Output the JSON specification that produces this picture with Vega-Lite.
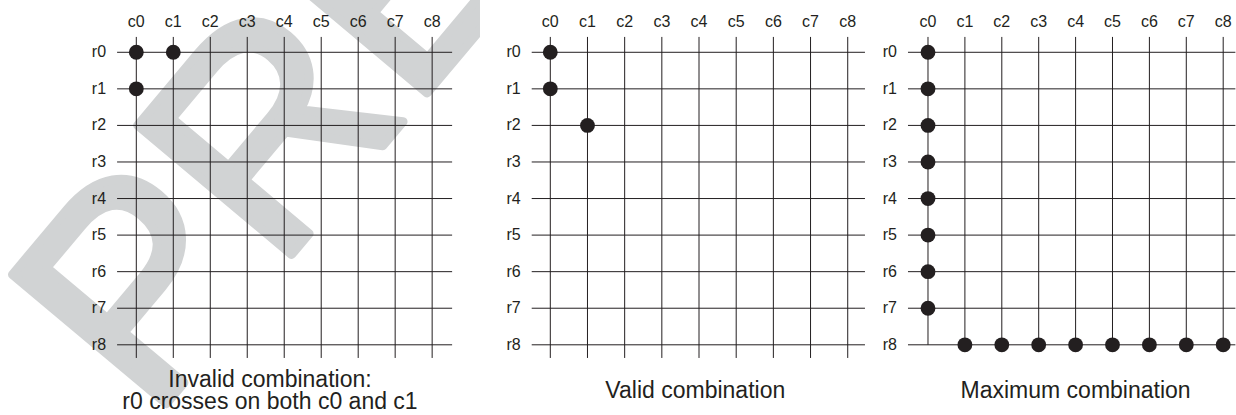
{
  "$schema": "https://vega.github.io/schema/vega-lite/v6.json",
  "padding": 0,
  "background": "white",
  "spacing": 0,
  "bounds": "flush",
  "config": {
    "view": {"stroke": null},
    "font": "Liberation Sans"
  },
  "datasets": {
    "cols": [
      {"col": 0, "label": "c0"}, {"col": 1, "label": "c1"}, {"col": 2, "label": "c2"},
      {"col": 3, "label": "c3"}, {"col": 4, "label": "c4"}, {"col": 5, "label": "c5"},
      {"col": 6, "label": "c6"}, {"col": 7, "label": "c7"}, {"col": 8, "label": "c8"}
    ],
    "rows": [
      {"row": 0, "label": "r0"}, {"row": 1, "label": "r1"}, {"row": 2, "label": "r2"},
      {"row": 3, "label": "r3"}, {"row": 4, "label": "r4"}, {"row": 5, "label": "r5"},
      {"row": 6, "label": "r6"}, {"row": 7, "label": "r7"}, {"row": 8, "label": "r8"}
    ],
    "invalid": [
      {"col": 0, "row": 0},
      {"col": 1, "row": 0},
      {"col": 0, "row": 1}
    ],
    "valid": [
      {"col": 0, "row": 0},
      {"col": 0, "row": 1},
      {"col": 1, "row": 2}
    ],
    "maximum": [
      {"col": 0, "row": 0}, {"col": 0, "row": 1}, {"col": 0, "row": 2}, {"col": 0, "row": 3},
      {"col": 0, "row": 4}, {"col": 0, "row": 5}, {"col": 0, "row": 6}, {"col": 0, "row": 7},
      {"col": 1, "row": 8}, {"col": 2, "row": 8}, {"col": 3, "row": 8}, {"col": 4, "row": 8},
      {"col": 5, "row": 8}, {"col": 6, "row": 8}, {"col": 7, "row": 8}, {"col": 8, "row": 8}
    ]
  },
  "hconcat": [
    {
      "width": 480,
      "height": 415,
      "layer": [
        {
          "data": {"values": [{"text": "PRELIMINARY"}]},
          "mark": {"type": "text", "clip": true, "font": "Liberation Sans", "fontSize": 292, "angle": -50, "align": "left", "baseline": "alphabetic", "fill": "#d1d3d4", "stroke": "#d1d3d4", "strokeWidth": 9, "strokeJoin": "round"},
          "encoding": {
            "text": {"field": "text"},
            "x": {"datum": 0.3975, "type": "quantitative", "scale": {"domain": [-3.686, 9.294], "nice": false, "zero": false}, "axis": null},
            "y": {"datum": 10.112, "type": "quantitative", "scale": {"domain": [-1.43, 9.92], "reverse": true, "nice": false, "zero": false}, "axis": null}
          }
        },
        {
          "data": {"name": "cols"},
          "mark": {"type": "rule", "color": "#231f20", "strokeWidth": 1},
          "encoding": {
            "x": {"field": "col", "type": "quantitative", "scale": {"domain": [-3.686, 9.294], "nice": false, "zero": false}, "axis": null},
            "y": {"datum": -0.42, "type": "quantitative", "scale": {"domain": [-1.43, 9.92], "reverse": true, "nice": false, "zero": false}, "axis": null},
            "y2": {"datum": 8.36}
          }
        },
        {
          "data": {"name": "rows"},
          "mark": {"type": "rule", "color": "#231f20", "strokeWidth": 1},
          "encoding": {
            "y": {"field": "row", "type": "quantitative", "scale": {"domain": [-1.43, 9.92], "reverse": true, "nice": false, "zero": false}, "axis": null},
            "x": {"datum": -0.52, "type": "quantitative", "scale": {"domain": [-3.686, 9.294], "nice": false, "zero": false}, "axis": null},
            "x2": {"datum": 8.54}
          }
        },
        {
          "data": {"name": "cols"},
          "mark": {"type": "text", "align": "center", "baseline": "alphabetic", "dy": -10, "font": "Liberation Sans", "fontSize": 16, "color": "#231f20"},
          "encoding": {
            "text": {"field": "label"},
            "x": {"field": "col", "type": "quantitative", "scale": {"domain": [-3.686, 9.294], "nice": false, "zero": false}, "axis": null},
            "y": {"datum": -0.42, "type": "quantitative", "scale": {"domain": [-1.43, 9.92], "reverse": true, "nice": false, "zero": false}, "axis": null}
          }
        },
        {
          "data": {"name": "rows"},
          "mark": {"type": "text", "align": "right", "baseline": "middle", "dx": -11, "font": "Liberation Sans", "fontSize": 16, "color": "#231f20"},
          "encoding": {
            "text": {"field": "label"},
            "y": {"field": "row", "type": "quantitative", "scale": {"domain": [-1.43, 9.92], "reverse": true, "nice": false, "zero": false}, "axis": null},
            "x": {"datum": -0.52, "type": "quantitative", "scale": {"domain": [-3.686, 9.294], "nice": false, "zero": false}, "axis": null}
          }
        },
        {
          "data": {"name": "invalid"},
          "mark": {"type": "circle", "size": 220, "opacity": 1, "color": "#231f20"},
          "encoding": {
            "x": {"field": "col", "type": "quantitative", "scale": {"domain": [-3.686, 9.294], "nice": false, "zero": false}, "axis": null},
            "y": {"field": "row", "type": "quantitative", "scale": {"domain": [-1.43, 9.92], "reverse": true, "nice": false, "zero": false}, "axis": null}
          }
        },
        {
          "data": {"values": [{"title": ["Invalid combination:", "r0 crosses on both c0 and c1"]}]},
          "mark": {"type": "text", "align": "center", "baseline": "alphabetic", "font": "Liberation Sans", "fontSize": 23, "lineHeight": 22.5, "color": "#231f20"},
          "encoding": {
            "text": {"field": "title"},
            "x": {"datum": 3.615, "type": "quantitative", "scale": {"domain": [-3.686, 9.294], "nice": false, "zero": false}, "axis": null},
            "y": {"datum": 9.147, "type": "quantitative", "scale": {"domain": [-1.43, 9.92], "reverse": true, "nice": false, "zero": false}, "axis": null}
          }
        }
      ]
    },
    {
      "width": 393,
      "height": 415,
      "layer": [
        {
          "data": {"name": "cols"},
          "mark": {"type": "rule", "color": "#231f20", "strokeWidth": 1},
          "encoding": {
            "x": {"field": "col", "type": "quantitative", "scale": {"domain": [-1.891, 8.68], "nice": false, "zero": false}, "axis": null},
            "y": {"datum": -0.42, "type": "quantitative", "scale": {"domain": [-1.43, 9.92], "reverse": true, "nice": false, "zero": false}, "axis": null},
            "y2": {"datum": 8.36}
          }
        },
        {
          "data": {"name": "rows"},
          "mark": {"type": "rule", "color": "#231f20", "strokeWidth": 1},
          "encoding": {
            "y": {"field": "row", "type": "quantitative", "scale": {"domain": [-1.43, 9.92], "reverse": true, "nice": false, "zero": false}, "axis": null},
            "x": {"datum": -0.5, "type": "quantitative", "scale": {"domain": [-1.891, 8.68], "nice": false, "zero": false}, "axis": null},
            "x2": {"datum": 8.464}
          }
        },
        {
          "data": {"name": "cols"},
          "mark": {"type": "text", "align": "center", "baseline": "alphabetic", "dy": -10, "font": "Liberation Sans", "fontSize": 16, "color": "#231f20"},
          "encoding": {
            "text": {"field": "label"},
            "x": {"field": "col", "type": "quantitative", "scale": {"domain": [-1.891, 8.68], "nice": false, "zero": false}, "axis": null},
            "y": {"datum": -0.42, "type": "quantitative", "scale": {"domain": [-1.43, 9.92], "reverse": true, "nice": false, "zero": false}, "axis": null}
          }
        },
        {
          "data": {"name": "rows"},
          "mark": {"type": "text", "align": "right", "baseline": "middle", "dx": -11, "font": "Liberation Sans", "fontSize": 16, "color": "#231f20"},
          "encoding": {
            "text": {"field": "label"},
            "y": {"field": "row", "type": "quantitative", "scale": {"domain": [-1.43, 9.92], "reverse": true, "nice": false, "zero": false}, "axis": null},
            "x": {"datum": -0.5, "type": "quantitative", "scale": {"domain": [-1.891, 8.68], "nice": false, "zero": false}, "axis": null}
          }
        },
        {
          "data": {"name": "valid"},
          "mark": {"type": "circle", "size": 220, "opacity": 1, "color": "#231f20"},
          "encoding": {
            "x": {"field": "col", "type": "quantitative", "scale": {"domain": [-1.891, 8.68], "nice": false, "zero": false}, "axis": null},
            "y": {"field": "row", "type": "quantitative", "scale": {"domain": [-1.43, 9.92], "reverse": true, "nice": false, "zero": false}, "axis": null}
          }
        },
        {
          "data": {"values": [{"title": "Valid combination"}]},
          "mark": {"type": "text", "align": "center", "baseline": "alphabetic", "font": "Liberation Sans", "fontSize": 23, "color": "#231f20"},
          "encoding": {
            "text": {"field": "title"},
            "x": {"datum": 3.9, "type": "quantitative", "scale": {"domain": [-1.891, 8.68], "nice": false, "zero": false}, "axis": null},
            "y": {"datum": 9.464, "type": "quantitative", "scale": {"domain": [-1.43, 9.92], "reverse": true, "nice": false, "zero": false}, "axis": null}
          }
        }
      ]
    },
    {
      "width": 363,
      "height": 415,
      "layer": [
        {
          "data": {"name": "cols"},
          "mark": {"type": "rule", "color": "#231f20", "strokeWidth": 1},
          "encoding": {
            "x": {"field": "col", "type": "quantitative", "scale": {"domain": [-1.4905, 8.347], "nice": false, "zero": false}, "axis": null},
            "y": {"datum": -0.42, "type": "quantitative", "scale": {"domain": [-1.43, 9.92], "reverse": true, "nice": false, "zero": false}, "axis": null},
            "y2": {"datum": 8}
          }
        },
        {
          "data": {"name": "rows"},
          "mark": {"type": "rule", "color": "#231f20", "strokeWidth": 1},
          "encoding": {
            "y": {"field": "row", "type": "quantitative", "scale": {"domain": [-1.43, 9.92], "reverse": true, "nice": false, "zero": false}, "axis": null},
            "x": {"datum": -0.542, "type": "quantitative", "scale": {"domain": [-1.4905, 8.347], "nice": false, "zero": false}, "axis": null},
            "x2": {"datum": 8.33}
          }
        },
        {
          "data": {"name": "cols"},
          "mark": {"type": "text", "align": "center", "baseline": "alphabetic", "dy": -10, "font": "Liberation Sans", "fontSize": 16, "color": "#231f20"},
          "encoding": {
            "text": {"field": "label"},
            "x": {"field": "col", "type": "quantitative", "scale": {"domain": [-1.4905, 8.347], "nice": false, "zero": false}, "axis": null},
            "y": {"datum": -0.42, "type": "quantitative", "scale": {"domain": [-1.43, 9.92], "reverse": true, "nice": false, "zero": false}, "axis": null}
          }
        },
        {
          "data": {"name": "rows"},
          "mark": {"type": "text", "align": "right", "baseline": "middle", "dx": -11, "font": "Liberation Sans", "fontSize": 16, "color": "#231f20"},
          "encoding": {
            "text": {"field": "label"},
            "y": {"field": "row", "type": "quantitative", "scale": {"domain": [-1.43, 9.92], "reverse": true, "nice": false, "zero": false}, "axis": null},
            "x": {"datum": -0.542, "type": "quantitative", "scale": {"domain": [-1.4905, 8.347], "nice": false, "zero": false}, "axis": null}
          }
        },
        {
          "data": {"name": "maximum"},
          "mark": {"type": "circle", "size": 220, "opacity": 1, "color": "#231f20"},
          "encoding": {
            "x": {"field": "col", "type": "quantitative", "scale": {"domain": [-1.4905, 8.347], "nice": false, "zero": false}, "axis": null},
            "y": {"field": "row", "type": "quantitative", "scale": {"domain": [-1.43, 9.92], "reverse": true, "nice": false, "zero": false}, "axis": null}
          }
        },
        {
          "data": {"values": [{"title": "Maximum combination"}]},
          "mark": {"type": "text", "align": "center", "baseline": "alphabetic", "font": "Liberation Sans", "fontSize": 23, "color": "#231f20"},
          "encoding": {
            "text": {"field": "title"},
            "x": {"datum": 4, "type": "quantitative", "scale": {"domain": [-1.4905, 8.347], "nice": false, "zero": false}, "axis": null},
            "y": {"datum": 9.464, "type": "quantitative", "scale": {"domain": [-1.43, 9.92], "reverse": true, "nice": false, "zero": false}, "axis": null}
          }
        }
      ]
    }
  ]
}
